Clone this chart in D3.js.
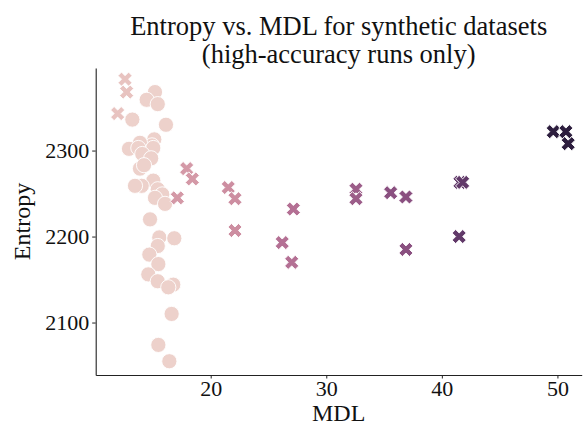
<!DOCTYPE html>
<html>
<head>
<meta charset="utf-8">
<script src="https://cdn.jsdelivr.net/npm/d3@7"></script>
<style>
  body { margin: 0; background: #fff; }
  text { font-family: "Liberation Serif", "DejaVu Serif", serif; fill: #111; }
</style>
</head>
<body>
<div id="chart"></div>
<script>
var svgWidth = 583;
var svgHeight = 426;

// plot area edges in pixels
var margin = { top: 68, right: 1.3, bottom: 51, left: 95.7 };
var width = svgWidth - margin.left - margin.right;
var height = svgHeight - margin.top - margin.bottom;

// circles (one group of runs)
var circleMDL = [15.18, 14.46, 15.42, 13.22, 16.13, 15.12, 14.92, 13.88, 12.93, 13.74,
  15.03, 14.08, 14.85, 13.88, 14.23, 15.03, 14.03, 13.45, 15.42, 15.81,
  15.18, 16.05, 14.75, 15.55, 16.85, 15.42, 14.69, 15.47, 14.60, 15.42,
  16.76, 16.33, 16.62, 15.47, 16.42];
var circleEntropy = [2368, 2359, 2354, 2336, 2330, 2313, 2306, 2309, 2302, 2303,
  2303, 2296, 2291, 2279, 2283, 2265, 2259, 2259, 2255, 2249,
  2245, 2238, 2220, 2199, 2198, 2189, 2179, 2168, 2156, 2148,
  2144, 2141, 2110, 2074, 2055];

// crosses (the other group), with their hue level
var crossMDL = [12.59, 12.73, 11.95, 17.92, 18.41, 17.11, 21.52, 22.10, 22.10, 27.15,
  26.19, 27.01, 32.57, 32.57, 35.57, 36.89, 36.89, 41.56, 41.80, 41.50,
  49.64, 50.73, 50.93];
var crossEntropy = [2383, 2368, 2343, 2279, 2267, 2245, 2257, 2244, 2207, 2232,
  2193, 2170, 2255, 2244, 2251, 2246, 2185, 2263, 2263, 2200,
  2322, 2322, 2308];
var crossHue = [0.06, 0.06, 0.06, 0.25, 0.25, 0.25, 0.3, 0.3, 0.3, 0.45,
  0.45, 0.45, 0.56, 0.56, 0.64, 0.64, 0.64, 0.8, 0.8, 0.8,
  1, 1, 1];
var circleHue = 0;

var xTicks = [20, 30, 40, 50];
var yTicks = [2100, 2200, 2300];

// seaborn default cubehelix (light .85 -> dark .15)
function cubehelix(t) {
  var x = 0.85 + (0.15 - 0.85) * t;
  var a = 0.8 * x * (1 - x) / 2;
  var phi = 2 * Math.PI * (0.4 * x);
  var c = Math.cos(phi), s = Math.sin(phi);
  var r = x + a * (-0.14861 * c + 1.78277 * s);
  var g = x + a * (-0.29227 * c - 0.90649 * s);
  var b = x + a * (1.97294 * c);
  var cl = function(v) { return Math.round(255 * Math.max(0, Math.min(1, v))); };
  return d3.rgb(cl(r), cl(g), cl(b)).toString();
}
var color = d3.scaleSequential(cubehelix).domain([0, 1]);

var svg = d3.select("#chart")
  .append("svg")
  .attr("width", svgWidth)
  .attr("height", svgHeight);

var chart = svg.append("g")
  .attr("transform", `translate(${margin.left}, ${margin.top})`);

var xScale = d3.scaleLinear().domain([10.05, 52.1]).range([0, width]);
var yScale = d3.scaleLinear().domain([2039, 2396]).range([height, 0]);

// axes (left + bottom only)
var xAxis = chart.append("g")
  .attr("transform", `translate(0, ${height})`)
  .call(d3.axisBottom(xScale).tickValues(xTicks).tickFormat(d3.format("d"))
    .tickSize(3.5).tickPadding(1.5).tickSizeOuter(0));
var yAxis = chart.append("g")
  .call(d3.axisLeft(yScale).tickValues(yTicks).tickFormat(d3.format("d"))
    .tickSize(3.5).tickPadding(3).tickSizeOuter(0));

[xAxis, yAxis].forEach(function(ax) {
  ax.select(".domain").attr("stroke", "#222").attr("stroke-width", 1.1);
  ax.selectAll(".tick line").attr("stroke", "#222");
  ax.selectAll(".tick text").attr("font-size", "22px")
    .attr("font-family", "Liberation Serif").attr("fill", "#111");
});
xAxis.selectAll(".tick text").attr("dy", "0.72em");

// points
var circles = circleMDL.map(function(m, i) { return { x: m, y: circleEntropy[i], h: circleHue }; });
var crosses = crossMDL.map(function(m, i) { return { x: m, y: crossEntropy[i], h: crossHue[i] }; });

chart.selectAll("circle.pt")
  .data(circles)
  .enter()
  .append("circle")
  .attr("class", "pt")
  .attr("cx", d => xScale(d.x))
  .attr("cy", d => yScale(d.y))
  .attr("r", 7.6)
  .attr("fill", d => color(d.h))
  .attr("stroke", "#fff")
  .attr("stroke-width", 0.9);

var xSymbol = d3.symbol().type(d3.symbolCross).size(125);
chart.selectAll("path.xpt")
  .data(crosses)
  .enter()
  .append("path")
  .attr("class", "xpt")
  .attr("d", xSymbol)
  .attr("transform", d => `translate(${xScale(d.x)}, ${yScale(d.y)}) rotate(45)`)
  .attr("fill", d => color(d.h))
  .attr("stroke", "#fff")
  .attr("stroke-width", 0.9);

// labels
svg.append("text")
  .attr("x", margin.left + width / 2)
  .attr("y", 421)
  .attr("text-anchor", "middle")
  .attr("font-size", "24px")
  .text("MDL");

svg.append("text")
  .attr("transform", `translate(30, ${margin.top + height / 2}) rotate(-90)`)
  .attr("text-anchor", "middle")
  .attr("font-size", "24px")
  .text("Entropy");

var title = svg.append("text")
  .attr("x", margin.left + width / 2)
  .attr("text-anchor", "middle")
  .attr("font-size", "26.5px");
title.append("tspan").attr("x", margin.left + width / 2).attr("y", 35)
  .text("Entropy vs. MDL for synthetic datasets");
title.append("tspan").attr("x", margin.left + width / 2).attr("y", 63)
  .text("(high-accuracy runs only)");
</script>
</body>
</html>
